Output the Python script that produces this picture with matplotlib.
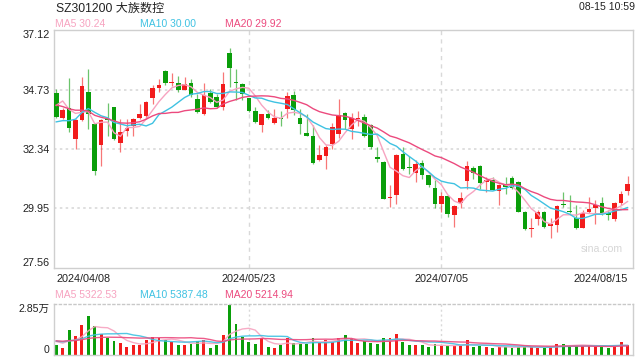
import matplotlib
matplotlib.use("Agg")
import matplotlib.pyplot as plt
import numpy as np
import pandas as pd

plt.rcParams['font.family'] = ['Liberation Sans', 'Noto Sans CJK SC', 'DejaVu Sans']

# ---------------- data ----------------
title = "SZ301200 大族数控"
timestamp = "08-15 10:59"
date_ticks = [0, 30, 60, 89]
date_labels = ["2024/04/08", "2024/05/23", "2024/07/05", "2024/08/15"]
price_ticks = [37.12, 34.73, 32.34, 29.95, 27.56]
vol_ticks = [0, 28500]
vol_tick_labels = ["0", "2.85万"]

opens = [34.57, 33.57, 33.97, 32.75, 33.51, 34.62, 33.34, 32.50, 33.55, 34.01,
         32.59, 33.07, 33.26, 33.57, 33.68, 34.38, 34.81, 35.49, 35.01, 35.00,
         34.70, 35.00, 34.33, 33.73, 34.57, 34.42, 34.03, 36.20, 35.05, 34.97,
         34.37, 33.85, 33.31, 33.73, 33.40, 33.59, 33.93, 34.49, 33.57, 33.00,
         32.86, 31.88, 32.07, 32.54, 32.94, 33.80, 33.14, 33.53, 33.63, 33.31,
         32.02, 31.82, 30.38, 30.51, 32.13, 31.62, 31.38, 31.78, 31.28, 30.79,
         30.15, 30.45, 29.68, 30.18, 31.04, 31.58, 31.66, 31.01, 31.08, 30.65,
         30.88, 31.18, 31.01, 29.82, 29.13, 29.53, 29.79, 29.26, 29.29, 30.15,
         29.84, 29.58, 29.15, 29.82, 29.98, 30.18, 29.78, 29.53, 30.19, 30.64]
highs = [34.76, 34.00, 35.19, 33.53, 35.23, 35.55, 33.40, 33.56, 34.17, 34.03,
         33.56, 33.56, 33.59, 34.13, 34.27, 34.93, 35.15, 35.50, 35.39, 35.29,
         35.23, 35.17, 34.53, 35.00, 34.76, 34.53, 35.43, 36.40, 35.55, 35.00,
         34.40, 34.03, 33.75, 33.91, 33.96, 33.87, 34.64, 34.66, 33.93, 33.76,
         33.31, 32.50, 32.50, 33.38, 34.33, 33.83, 33.80, 33.87, 33.73, 33.36,
         32.41, 31.85, 30.91, 32.14, 32.41, 32.07, 31.88, 31.88, 31.30, 31.08,
         30.61, 30.48, 30.08, 30.61, 31.84, 31.65, 31.70, 31.21, 31.21, 30.95,
         31.21, 31.25, 31.04, 29.84, 29.55, 29.88, 29.84, 29.55, 30.08, 30.61,
         30.51, 30.08, 29.88, 30.41, 30.28, 30.41, 29.88, 30.22, 30.65, 31.25]
lows = [33.60, 33.53, 33.03, 32.34, 33.47, 33.16, 31.28, 31.64, 32.87, 32.71,
        32.21, 32.87, 32.87, 33.53, 33.53, 34.13, 34.62, 34.93, 34.86, 34.62,
        34.69, 34.44, 33.77, 33.72, 34.17, 33.97, 33.89, 34.82, 34.29, 34.29,
        33.83, 33.38, 33.03, 33.53, 33.35, 33.27, 33.57, 33.71, 32.95, 32.87,
        31.74, 31.85, 31.54, 32.34, 32.80, 33.16, 32.74, 33.27, 32.84, 32.34,
        31.81, 30.32, 30.02, 30.15, 31.48, 31.34, 31.01, 31.15, 30.81, 29.95,
        29.82, 29.62, 29.22, 29.95, 30.75, 31.14, 30.75, 30.61, 30.68, 30.08,
        30.55, 30.75, 29.79, 29.09, 28.82, 29.29, 29.18, 28.76, 29.02, 30.02,
        29.75, 29.13, 29.15, 29.75, 29.31, 29.68, 29.49, 29.45, 30.08, 30.48]
closes = [33.63, 33.89, 33.18, 33.50, 34.89, 33.75, 31.44, 33.50, 33.52, 32.75,
          33.04, 33.19, 33.53, 33.73, 34.21, 34.81, 34.93, 34.98, 35.04, 34.70,
          34.97, 34.50, 33.84, 34.49, 34.23, 34.01, 34.97, 35.58, 34.98, 34.53,
          33.85, 33.43, 33.73, 33.57, 33.57, 33.56, 34.46, 33.91, 33.35, 32.87,
          31.78, 32.10, 32.43, 33.22, 33.72, 33.51, 33.60, 33.57, 32.87, 32.43,
          31.94, 30.35, 30.43, 32.10, 31.52, 31.57, 31.74, 31.28, 30.91, 30.15,
          30.44, 29.71, 30.04, 30.39, 31.65, 31.38, 30.96, 31.08, 30.71, 30.88,
          30.81, 30.79, 29.82, 29.13, 29.18, 29.79, 29.22, 29.31, 30.06, 30.11,
          29.79, 29.15, 29.78, 29.91, 30.08, 29.78, 29.68, 30.19, 30.55, 30.95]
volumes = [5625, 3938, 14060, 10690, 16875, 21940, 15940, 11625, 9750, 7875,
           6940, 4500, 5625, 5810, 8440, 10310, 9750, 8440, 7500, 5625,
           5625, 6190, 7875, 8440, 4125, 5625, 11250, 28125, 17440, 10310,
           7500, 6190, 9750, 4500, 3938, 5625, 9750, 6750, 6375, 6375,
           9560, 6940, 8440, 7310, 9560, 11250, 9375, 6940, 7875, 6940,
           6375, 9560, 9560, 11810, 7310, 5625, 5625, 5625, 4310, 6190,
           5250, 5250, 5250, 5250, 8440, 4690, 5250, 4500, 4125, 4500,
           4500, 4125, 4690, 4690, 4500, 4125, 4125, 4310, 6190, 6190,
           5250, 5250, 5250, 5250, 5250, 4690, 4125, 5250, 7500, 5625]
# sessions before the first visible day (estimated from where the MA lines start)
prior_closes = [35.2, 35.0, 34.6, 34.9, 34.5, 34.8, 35.1, 34.7, 34.4, 34.7,
                33.4, 33.2, 32.9, 32.2, 32.15, 32.99, 34.88, 34.3, 34.65]
prior_volumes = [8200, 7600, 8900, 7300, 8500, 7900, 8100, 7400, 8800, 7700,
                 8300, 7500, 8600, 7800, 8000, 8400, 7600, 8100, 7800]
ma_windows = [5, 10, 20]
ma_colors = ['#f7a3c0', '#3fc2e2', '#ec4a7e']
price_ma_last = ["30.24", "30.00", "29.92"]
vol_ma_last = ["5322.53", "5387.48", "5214.94"]

# ---------------- layout ----------------
W, H = 640, 360
def fr(x0, y0, x1, y1):
    return [x0 / W, 1 - y1 / H, (x1 - x0) / W, (y1 - y0) / H]

fig = plt.figure(figsize=(6.4, 3.6), dpi=100)
ax = fig.add_axes(fr(54, 30, 633, 268))
axv = fig.add_axes(fr(54, 304, 633, 355))

RED = '#f21c1c'
GREEN = '#0a9e0a'
GRID = '#d9d9d9'
SPINE = '#cfcfcf'
TXT = '#222222'

n = len(closes)
x = np.arange(n)
o = np.array(opens); c = np.array(closes)
hi = np.array(highs); lo = np.array(lows)
up = c >= o
cols = np.where(up, RED, GREEN)

all_c = pd.Series(prior_closes + closes)
all_v = pd.Series(prior_volumes + volumes)
np_ = len(prior_closes)

# ---------------- price panel ----------------
ax.set_xlim(-0.35, 89.85)
ax.set_ylim(price_ticks[-1], price_ticks[0])
for xv in date_ticks[1:3]:
    ax.axvline(xv, color=GRID, lw=1, ls=(0, (3, 3)), zorder=0)
for yv in price_ticks[1:4]:
    ax.axhline(yv, color=GRID, lw=1.2, ls=(0, (1.5, 2)), zorder=0)

ax.vlines(x, lo, hi, colors=cols, lw=0.9, alpha=0.6, zorder=2)
body_b = np.minimum(o, c)
body_h = np.maximum(np.abs(c - o), 0.04)
ax.bar(x, body_h, bottom=body_b, width=0.72, color=cols, lw=0, zorder=3)

for w, col in zip(ma_windows, ma_colors):
    ma = all_c.rolling(w, min_periods=1).mean().values[np_:]
    ax.plot(x, ma, color=col, lw=1.0, zorder=4)

ax.set_yticks(price_ticks)
ax.set_yticklabels([f"{v:.2f}" for v in price_ticks])
ax.set_xticks(date_ticks)
ax.set_xticklabels(date_labels)
ax.tick_params(axis='both', length=0, labelsize=7.8, colors=TXT)
ax.tick_params(axis='y', pad=3)
ax.tick_params(axis='x', pad=4.5)
ylabs = ax.get_yticklabels()
ylabs[0].set_va('top')
ylabs[-1].set_va('bottom')
xlabs = ax.get_xticklabels()
xlabs[0].set_ha('left')
xlabs[-1].set_ha('right')
for s in ax.spines.values():
    s.set_color(SPINE); s.set_linewidth(1)

# ---------------- volume panel ----------------
axv.set_xlim(-0.35, 89.85)
axv.set_ylim(vol_ticks[0], vol_ticks[-1])
for xv in date_ticks[1:3]:
    axv.axvline(xv, color=GRID, lw=1, ls=(0, (1.5, 2)), zorder=0)
axv.bar(x, volumes, width=0.45, color=cols, lw=0, zorder=2)
for w, col in zip(ma_windows, ma_colors):
    ma = all_v.rolling(w, min_periods=1).mean().values[np_:]
    axv.plot(x, ma, color=col, lw=1.0, zorder=3, alpha=0.9)
axv.set_yticks(vol_ticks)
axv.set_yticklabels(vol_tick_labels)
axv.set_xticks([])
axv.tick_params(axis='y', length=0, labelsize=7.6, colors=TXT, pad=3)
vl = axv.get_yticklabels()
vl[0].set_va('bottom')
vl[-1].set_va('top')
for s in axv.spines.values():
    s.set_color(SPINE); s.set_linewidth(1)
axv.spines['top'].set_linestyle((0, (1.5, 2)))
axv.spines['top'].set_color('#c8c8c8')

# ---------------- texts ----------------
fig.text(56 / W, 1 - 9 / H, title, fontsize=8.7, color=TXT, va='center', ha='left')
fig.text(635 / W, 1 - 6.5 / H, timestamp, fontsize=7.6, color=TXT, va='center', ha='right')
leg_x = [55, 140, 225]
for lx, w, col, v in zip(leg_x, ma_windows, ma_colors, price_ma_last):
    fig.text(lx / W, 1 - 24 / H, f"MA{w} {v}", fontsize=7.5, color=col, va='center', ha='left')
for lx, w, col, v in zip(leg_x, ma_windows, ma_colors, vol_ma_last):
    fig.text(lx / W, 1 - 294.5 / H, f"MA{w} {v}", fontsize=7.5, color=col, va='center', ha='left')
fig.text(602 / W, 1 - 249 / H, "sina.com", fontsize=7.6, color='#d6d6d6', va='center', ha='center')

fig.savefig("out.png", dpi=100)
